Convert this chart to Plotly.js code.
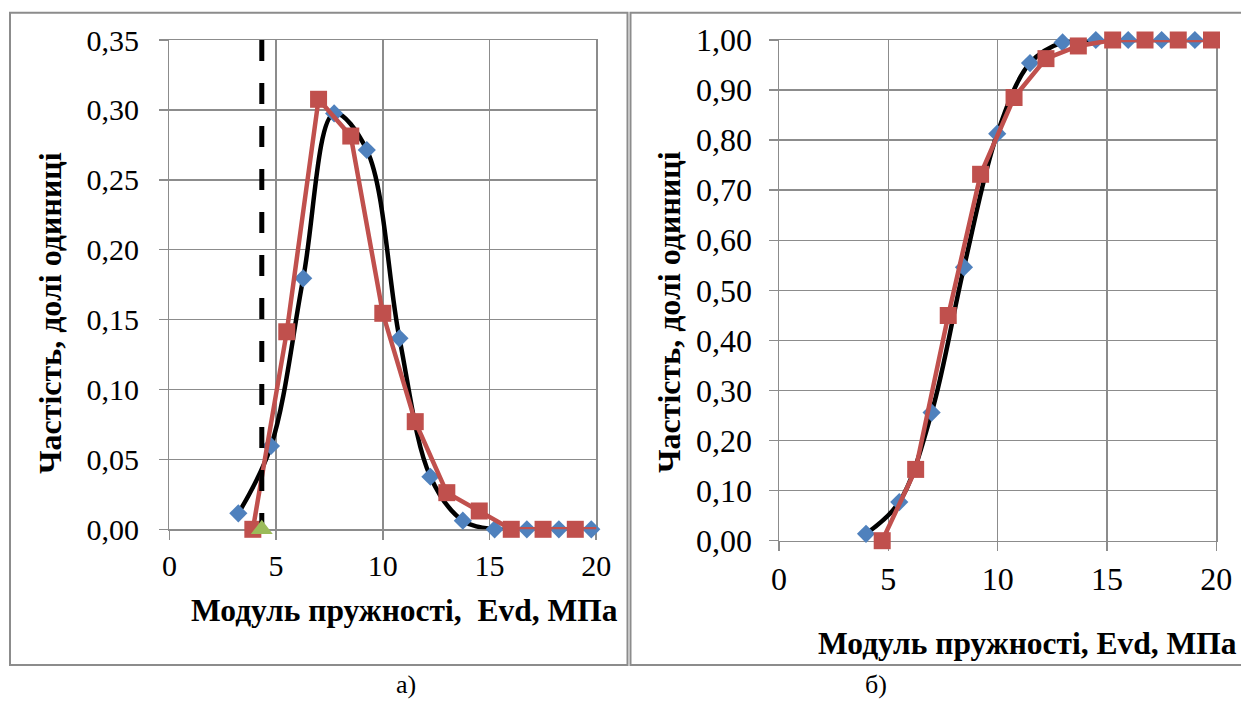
<!DOCTYPE html>
<html><head><meta charset="utf-8">
<script src="https://cdn.plot.ly/plotly-3.0.1.min.js"></script>
<style>html,body{margin:0;padding:0;background:#fff}#chart{width:1241px;height:702px}</style>
</head><body><div id="chart"></div>
<script>
// ---- a) частість (frequency) ----
const freqEmpX   = [3.23, 4.76, 6.27, 7.72, 9.25, 10.78, 12.23, 13.75, 15.24, 16.75, 18.25, 19.77];
const freqEmpY   = [0.0114, 0.0596, 0.1795, 0.2975, 0.2713, 0.1366, 0.0376, 0.0062, 0, 0, 0, 0];
const freqTheorX = [3.91, 5.50, 6.99, 8.50, 10.00, 11.52, 13.00, 14.52, 16.02, 17.51, 19.02, 20.53];
const freqTheorY = [0, 0.1413, 0.3076, 0.2813, 0.1545, 0.0770, 0.0262, 0.0131, 0, 0, 0, 0];
const limitX = [4.33, 4.33];
const limitY = [0.35, 0];
const limitPointX = [4.33];
const limitPointY = [0];
// ---- б) накопичена частість (cumulative) ----
const cumEmpX   = [3.98, 5.50, 6.98, 8.46, 9.98, 11.48, 12.97, 14.49, 15.97, 17.50, 19.02];
const cumEmpY   = [0.0138, 0.0771, 0.2558, 0.5462, 0.8130, 0.9540, 0.9952, 1, 1, 1, 1];
const cumTheorX = [4.72, 6.25, 7.74, 9.22, 10.75, 12.21, 13.69, 15.26, 16.74, 18.26, 19.78];
const cumTheorY = [0, 0.1424, 0.4498, 0.7318, 0.8851, 0.9628, 0.9881, 1, 1, 1, 1];
// ---- text ----
const xTitleA = "Модуль пружності,\u00A0 Evd, МПа";
const xTitleB = "Модуль пружності, Evd, МПа";
const yTitle = "Частість, долі одиниці";
const captionA = "а)";
const captionB = "б)";

const W = 1241, H = 702;
const fx = p => p / W;
const fy = p => 1 - p / H;
const SERIF = "Liberation Serif";
const GRID = '#8c8c8c';
const BLUE = '#4F81BD', RED = '#C0504D', GREEN = '#9BBB59';
const X_MAX = 20;

function axisBase(extra) {
  return Object.assign({
    showgrid: true, gridcolor: GRID, gridwidth: 1.5,
    showline: true, mirror: true, linecolor: GRID, linewidth: 1.5,
    ticks: 'outside', ticklen: 9, tickcolor: GRID, tickwidth: 1.5,
    zeroline: false, layer: 'below traces', fixedrange: true,
    tickfont: {family: SERIF, size: 30, color: '#000'}
  }, extra);
}

const inRange = (xs, ys) => {
  const ox = [], oy = [];
  xs.forEach((x, i) => { if (x <= X_MAX) { ox.push(x); oy.push(ys[i]); } });
  return {x: ox, y: oy};
};
const redPts = inRange(freqTheorX, freqTheorY);

const traces = [
  {x: freqEmpX, y: freqEmpY, xaxis: 'x', yaxis: 'y', mode: 'lines+markers', cliponaxis: false,
   line: {color: '#000', width: 4.5, shape: 'spline', smoothing: 1},
   marker: {symbol: 'diamond', size: 14, color: BLUE}},
  {x: freqTheorX, y: freqTheorY, xaxis: 'x', yaxis: 'y', mode: 'lines',
   line: {color: RED, width: 4.5}},
  {x: redPts.x, y: redPts.y, xaxis: 'x', yaxis: 'y', mode: 'markers', cliponaxis: false,
   marker: {symbol: 'square', size: 17, color: RED}},
  {x: limitX, y: limitY, xaxis: 'x', yaxis: 'y', mode: 'lines',
   line: {color: '#000', width: 5, dash: '21px,22px'}},
  {x: limitPointX, y: limitPointY, xaxis: 'x', yaxis: 'y', mode: 'markers', cliponaxis: false,
   marker: {symbol: 'triangle-up', size: 19, color: GREEN}},
  {x: cumEmpX, y: cumEmpY, xaxis: 'x2', yaxis: 'y2', mode: 'lines+markers', cliponaxis: false,
   line: {color: '#000', width: 4.5, shape: 'spline', smoothing: 1},
   marker: {symbol: 'diamond', size: 14, color: BLUE}},
  {x: cumTheorX, y: cumTheorY, xaxis: 'x2', yaxis: 'y2', mode: 'lines+markers', cliponaxis: false,
   line: {color: RED, width: 4.5},
   marker: {symbol: 'square', size: 17, color: RED}}
];

const ann = (text, x, y, size, bold, angle) => ({
  text: bold ? '<b>' + text + '</b>' : text, xref: 'paper', yref: 'paper', x: fx(x), y: fy(y),
  xanchor: 'center', yanchor: 'middle', showarrow: false, textangle: angle || 0,
  font: {family: SERIF, size: size, color: '#000'}
});

const layout = {
  width: W, height: H, margin: {l: 0, r: 0, t: 0, b: 0},
  font: {family: SERIF, size: 29, color: '#000'},
  paper_bgcolor: '#fff', plot_bgcolor: '#fff', showlegend: false,
  separators: ', ',
  xaxis: axisBase({domain: [fx(169.4), fx(596.2)], range: [0, 20], tick0: 0, dtick: 5, anchor: 'y'}),
  yaxis: axisBase({domain: [fy(529.3), fy(40)], range: [0, 0.35], tick0: 0, dtick: 0.05, tickformat: '.2f',
    anchor: 'x', ticklabelstandoff: 14}),
  xaxis2: axisBase({domain: [fx(779), fx(1216.3)], range: [0, 20], tick0: 0, dtick: 5, anchor: 'y2',
    tickfont: {family: SERIF, size: 32, color: '#000'}}),
  yaxis2: axisBase({domain: [fy(540.7), fy(40)], range: [0, 1], tick0: 0, dtick: 0.1, tickformat: '.2f',
    anchor: 'x2', ticklabelstandoff: 10, tickfont: {family: SERIF, size: 32, color: '#000'}}),
  shapes: [
    {type: 'rect', xref: 'paper', yref: 'paper', x0: fx(10), x1: fx(627.5), y0: fy(665), y1: fy(12.7),
     line: {color: GRID, width: 2}, fillcolor: 'rgba(0,0,0,0)', layer: 'below'},
    {type: 'rect', xref: 'paper', yref: 'paper', x0: fx(630.5), x1: fx(1250), y0: fy(665), y1: fy(12.7),
     line: {color: GRID, width: 2}, fillcolor: 'rgba(0,0,0,0)', layer: 'below'}
  ],
  annotations: [
    ann(xTitleA, 404, 610, 31.5, true),
    ann(xTitleB, 1027, 643, 31.5, true),
    ann(yTitle, 50, 313, 32, true, -90),
    ann(yTitle, 669, 312, 32, true, -90),
    ann(captionA, 406, 684, 26, false),
    ann(captionB, 876, 684, 26, false)
  ]
};

Plotly.newPlot('chart', traces, layout, {staticPlot: true, displayModeBar: false});
</script>
</body></html>
